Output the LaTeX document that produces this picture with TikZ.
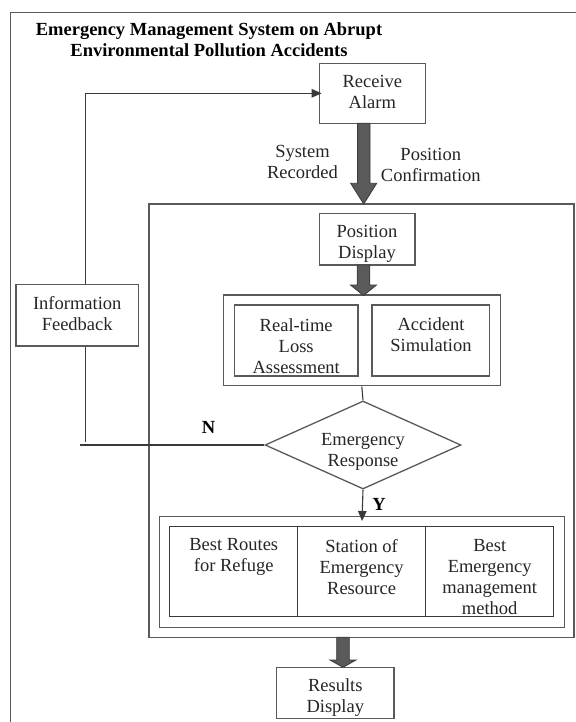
\documentclass[tikz,border=0pt]{standalone}
\usepackage{fontspec}
\setmainfont{Liberation Serif}
\usetikzlibrary{shapes.geometric,arrows.meta}
\definecolor{boxgray}{HTML}{5A5A5A}
\definecolor{linegray}{HTML}{3A3A3A}
\definecolor{fatfill}{HTML}{5A5A5A}
\definecolor{txtcol}{HTML}{262626}
\newcommand\myfatarrow[4]{%
  \filldraw[fill=fatfill, draw=linegray, line width=0.8pt]
    ({#1-6.3},#2) -- ({#1+6.3},#2) -- ({#1+6.3},#3) -- ({#1+13},#3) --
    (#1,#4) -- ({#1-13},#3) -- ({#1-6.3},#3) -- cycle;}
\begin{document}
\begin{tikzpicture}[x=1pt,y=-1pt,
  every node/.style={font=\fontsize{18.5}{21}\selectfont, text=txtcol},
  box/.style={draw=boxgray, line width=1.3pt, rectangle, inner sep=0pt},
  cell/.style={draw=linegray, line width=1.3pt, rectangle, inner sep=0pt,
               minimum height=90pt},
  txt/.style={align=center, inner sep=0pt},
  conn/.style={draw=linegray, line width=1.1pt},
  tipped/.style={-{Triangle[length=10pt,width=8.5pt]}}]
\fill[white] (0,0) rectangle (575,722);
\useasboundingbox (0,0) rectangle (575,722);

% outer frame (runs past the right and bottom edges)
\draw[draw=boxgray, line width=1.3pt] (580,12.7) -- (10.5,12.7) -- (10.5,730);

% title
\node[txt, text=black, font=\bfseries\fontsize{18.5}{21}\selectfont] (title) at (209,39.7)
  {Emergency Management System on Abrupt\\Environmental Pollution Accidents};

% receive alarm
\node[box, minimum width=106.4pt, minimum height=60pt] (ra) at (372.5,93.3) {};
\node[txt] (ratxt) at (372.3,92.2) {Receive\\Alarm};

% labels beside fat arrow
\node[txt] (sysrec) at (302.5,162.2) {System\\Recorded};
\node[txt] (poscon) at (430.8,165) {Position\\Confirmation};

% inner big box
\node[box, minimum width=425pt, minimum height=433.3pt] (big) at (361.5,420.65) {};

% position display
\node[box, minimum width=95.7pt, minimum height=51.7pt] (pd) at (367.2,239.2) {};
\node[txt] (pdtxt) at (367,244) {Position\\Display};

% analysis container
\node[box, minimum width=277pt, minimum height=90.7pt] (anl) at (361.8,340.4) {};
\node[box, minimum width=123.7pt, minimum height=71pt] (rt) at (296.2,340.5) {};
\node[txt] (rttxt) at (296.2,346.2) {Real-time\\Loss\\Assessment};
\node[box, minimum width=117.7pt, minimum height=71pt] (as) at (430.9,340.5) {};
\node[txt] (astxt) at (431,334.5) {Accident\\Simulation};

% decision
\node[draw=boxgray, line width=1.3pt, diamond, inner sep=0pt,
      minimum width=196pt, minimum height=88pt] (dia) at (363,445) {};
\node[txt] (diatxt) at (363,452) {Emergency\\Response};

% information feedback
\node[box, minimum width=122.3pt, minimum height=61.7pt] (fb) at (77.2,315.2) {};
\node[txt] (fbtxt) at (77.2,314) {Information\\Feedback};

% results container and table
\node[box, minimum width=405.2pt, minimum height=111pt] (res) at (362.1,572.2) {};
\node[cell, minimum width=127.7pt] (c1) at (233.65,571.7) {};
\node[cell, minimum width=128.1pt] (c2) at (361.55,571.7) {};
\node[cell, minimum width=128.1pt] (c3) at (489.65,571.7) {};
\node[txt] (c1txt) at (233.7,556.5) {Best Routes\\for Refuge};
\node[txt] (c2txt) at (361.6,567.3) {Station of\\Emergency\\Resource};
\node[txt] (c3txt) at (489.7,577.5) {Best\\Emergency\\management\\method};

% results display
\node[box, minimum width=117.3pt, minimum height=51pt] (rd) at (335.3,692.8) {};
\node[txt] (rdtxt) at (335.3,697.8) {Results\\Display};

% N / Y labels
\node[txt, text=black, font=\bfseries\fontsize{18.5}{21}\selectfont] (nlab) at (208.5,427.7) {N};
\node[txt, text=black, font=\bfseries\fontsize{18.5}{21}\selectfont] (ylab) at (379,504) {Y};

% connectors
\coordinate (fbx) at (85.7,0);
\coordinate (fbend) at (85.7,441.7);
\coordinate (nend) at (80,445);
\coordinate (yend) at (362,521);
\draw[conn, tipped, shorten >=-3pt] (fbx |- fb.north) |- (ra.west);
\draw[conn] (fbx |- fb.south) -- (fbend);
\draw[conn] (dia.west) -- (nend);
\draw[conn] (anl.south) -- (dia.north);
\draw[conn, tipped] (dia.south) -- (yend);

% fat arrows
\myfatarrow{363.7}{123.3}{183.3}{204}
\myfatarrow{363.5}{265}{285}{295.5}
\myfatarrow{343}{637.3}{660}{667.3}
\end{tikzpicture}
\end{document}
